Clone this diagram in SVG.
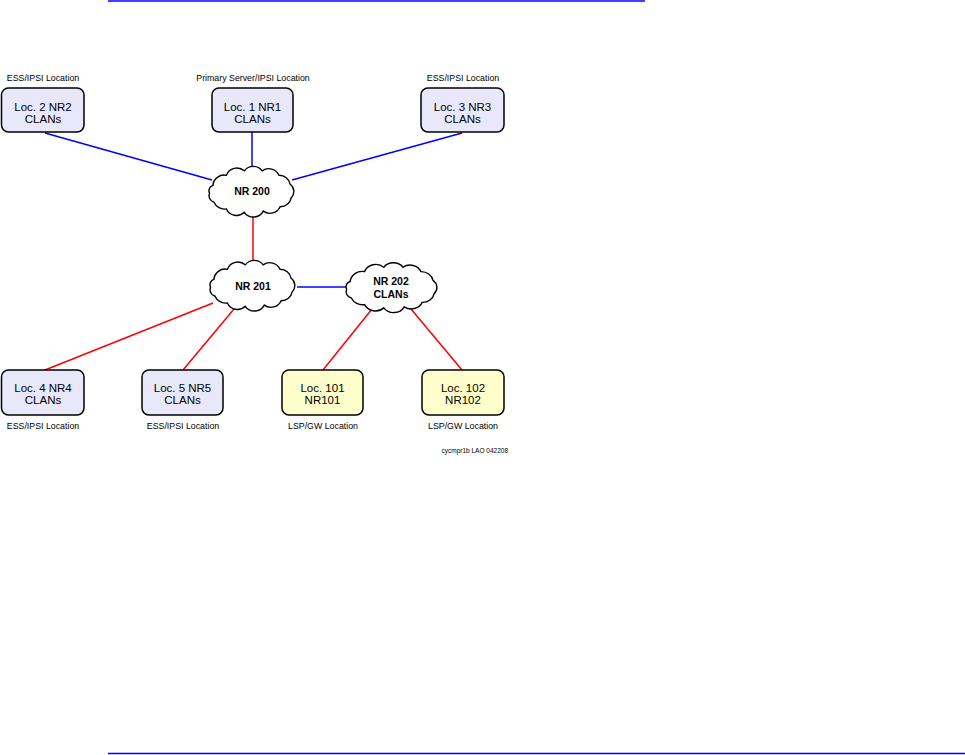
<svg xmlns="http://www.w3.org/2000/svg" width="965" height="755" viewBox="0 0 965 755">
<style>
.box{fill:#e8e8fa;stroke:#000;stroke-width:1.5}
.lsp{fill:#ffffcc;stroke:#000;stroke-width:1.5}
.cloud{fill:#fff;stroke:#000;stroke-width:1.4}
.t{font-family:"Liberation Sans",Arial,sans-serif;font-size:11.5px;fill:#000;text-anchor:middle}
.tb{font-family:"Liberation Sans",Arial,sans-serif;font-size:10.5px;font-weight:bold;fill:#000;text-anchor:middle}
.lbl{font-family:"Liberation Sans",Arial,sans-serif;font-size:8.8px;fill:#000;text-anchor:middle}
.blue{stroke:#0000ff;stroke-width:1.5;fill:none}
.red{stroke:#ff0000;stroke-width:1.5;fill:none}
.rule{stroke:#0000ff;stroke-width:1.5}
</style>
<defs>
<path id="cloudShape" vector-effect="non-scaling-stroke" d="M-34,-5 A10,10 0 0 1 -22,-14 A10,10 0 0 1 -6,-18 A10,10 0 0 1 10,-18 A10,10 0 0 1 25,-14 A10,10 0 0 1 35,-6 A8,8 0 0 1 36,6 A10,10 0 0 1 26,14 A10,10 0 0 1 11,18 A10,10 0 0 1 -6,19 A10,10 0 0 1 -22,16 A10,10 0 0 1 -33,10 A6,6 0 0 1 -37,2 A5,5 0 0 1 -34,-5 Z"/>
</defs>
<rect width="965" height="755" fill="#fff"/>
<line class="rule" x1="108" y1="1" x2="645" y2="1"/>
<line class="rule" x1="108" y1="753.5" x2="965" y2="753.5"/>
<g id="connectors">
<line class="blue" x1="45" y1="133" x2="212" y2="180"/>
<line class="blue" x1="252" y1="132" x2="252" y2="168"/>
<line class="blue" x1="462" y1="133" x2="292" y2="180"/>
<line class="red" x1="253" y1="213" x2="253" y2="263"/>
<line class="blue" x1="297" y1="287" x2="347" y2="287"/>
<line class="red" x1="45" y1="370" x2="213" y2="303"/>
<line class="red" x1="183" y1="370" x2="234" y2="309"/>
<line class="red" x1="323" y1="370" x2="372" y2="309"/>
<line class="red" x1="462" y1="370" x2="411" y2="309"/>
</g>
<g id="loc2">
<text class="lbl" x="43" y="81">ESS/IPSI Location</text>
<rect class="box" x="1.5" y="88" width="82.5" height="44" rx="7"/>
<text class="t" x="43" y="111">Loc. 2 NR2</text>
<text class="t" x="43" y="123">CLANs</text>
</g>
<g id="loc1">
<text class="lbl" x="253" y="81">Primary Server/IPSI Location</text>
<rect class="box" x="212" y="88" width="81" height="44" rx="7"/>
<text class="t" x="252.5" y="111">Loc. 1 NR1</text>
<text class="t" x="252.5" y="123">CLANs</text>
</g>
<g id="loc3">
<text class="lbl" x="463" y="81">ESS/IPSI Location</text>
<rect class="box" x="421" y="88" width="83" height="44" rx="7"/>
<text class="t" x="462.5" y="111">Loc. 3 NR3</text>
<text class="t" x="462.5" y="123">CLANs</text>
</g>
<g id="nr200">
<use href="#cloudShape" class="cloud" transform="translate(251,191) scale(1.12,1.12)"/>
<text class="tb" x="252" y="195">NR 200</text>
</g>
<g id="nr201">
<use href="#cloudShape" class="cloud" transform="translate(252,285) scale(1.12,1.12)"/>
<text class="tb" x="253" y="290">NR 201</text>
</g>
<g id="nr202">
<use href="#cloudShape" class="cloud" transform="translate(391,287) scale(1.2,1.1)"/>
<text class="tb" x="391" y="285">NR 202</text>
<text class="tb" x="391" y="298">CLANs</text>
</g>
<g id="loc4">
<rect class="box" x="1.5" y="370" width="82.5" height="45" rx="7"/>
<text class="t" x="43" y="392">Loc. 4 NR4</text>
<text class="t" x="43" y="404">CLANs</text>
<text class="lbl" x="43" y="429">ESS/IPSI Location</text>
</g>
<g id="loc5">
<rect class="box" x="142" y="370" width="81" height="45" rx="7"/>
<text class="t" x="182.5" y="392">Loc. 5 NR5</text>
<text class="t" x="182.5" y="404">CLANs</text>
<text class="lbl" x="183" y="429">ESS/IPSI Location</text>
</g>
<g id="loc101">
<rect class="lsp" x="282" y="370" width="81" height="45" rx="7"/>
<text class="t" x="322.5" y="392">Loc. 101</text>
<text class="t" x="322.5" y="404">NR101</text>
<text class="lbl" x="323" y="429">LSP/GW Location</text>
</g>
<g id="loc102">
<rect class="lsp" x="422" y="370" width="82" height="45" rx="7"/>
<text class="t" x="463" y="392">Loc. 102</text>
<text class="t" x="463" y="404">NR102</text>
<text class="lbl" x="463" y="429">LSP/GW Location</text>
</g>
<text x="508" y="453" font-family="'Liberation Sans',Arial,sans-serif" font-size="6.5" text-anchor="end">cycmpr1b LAO 042208</text>
</svg>
